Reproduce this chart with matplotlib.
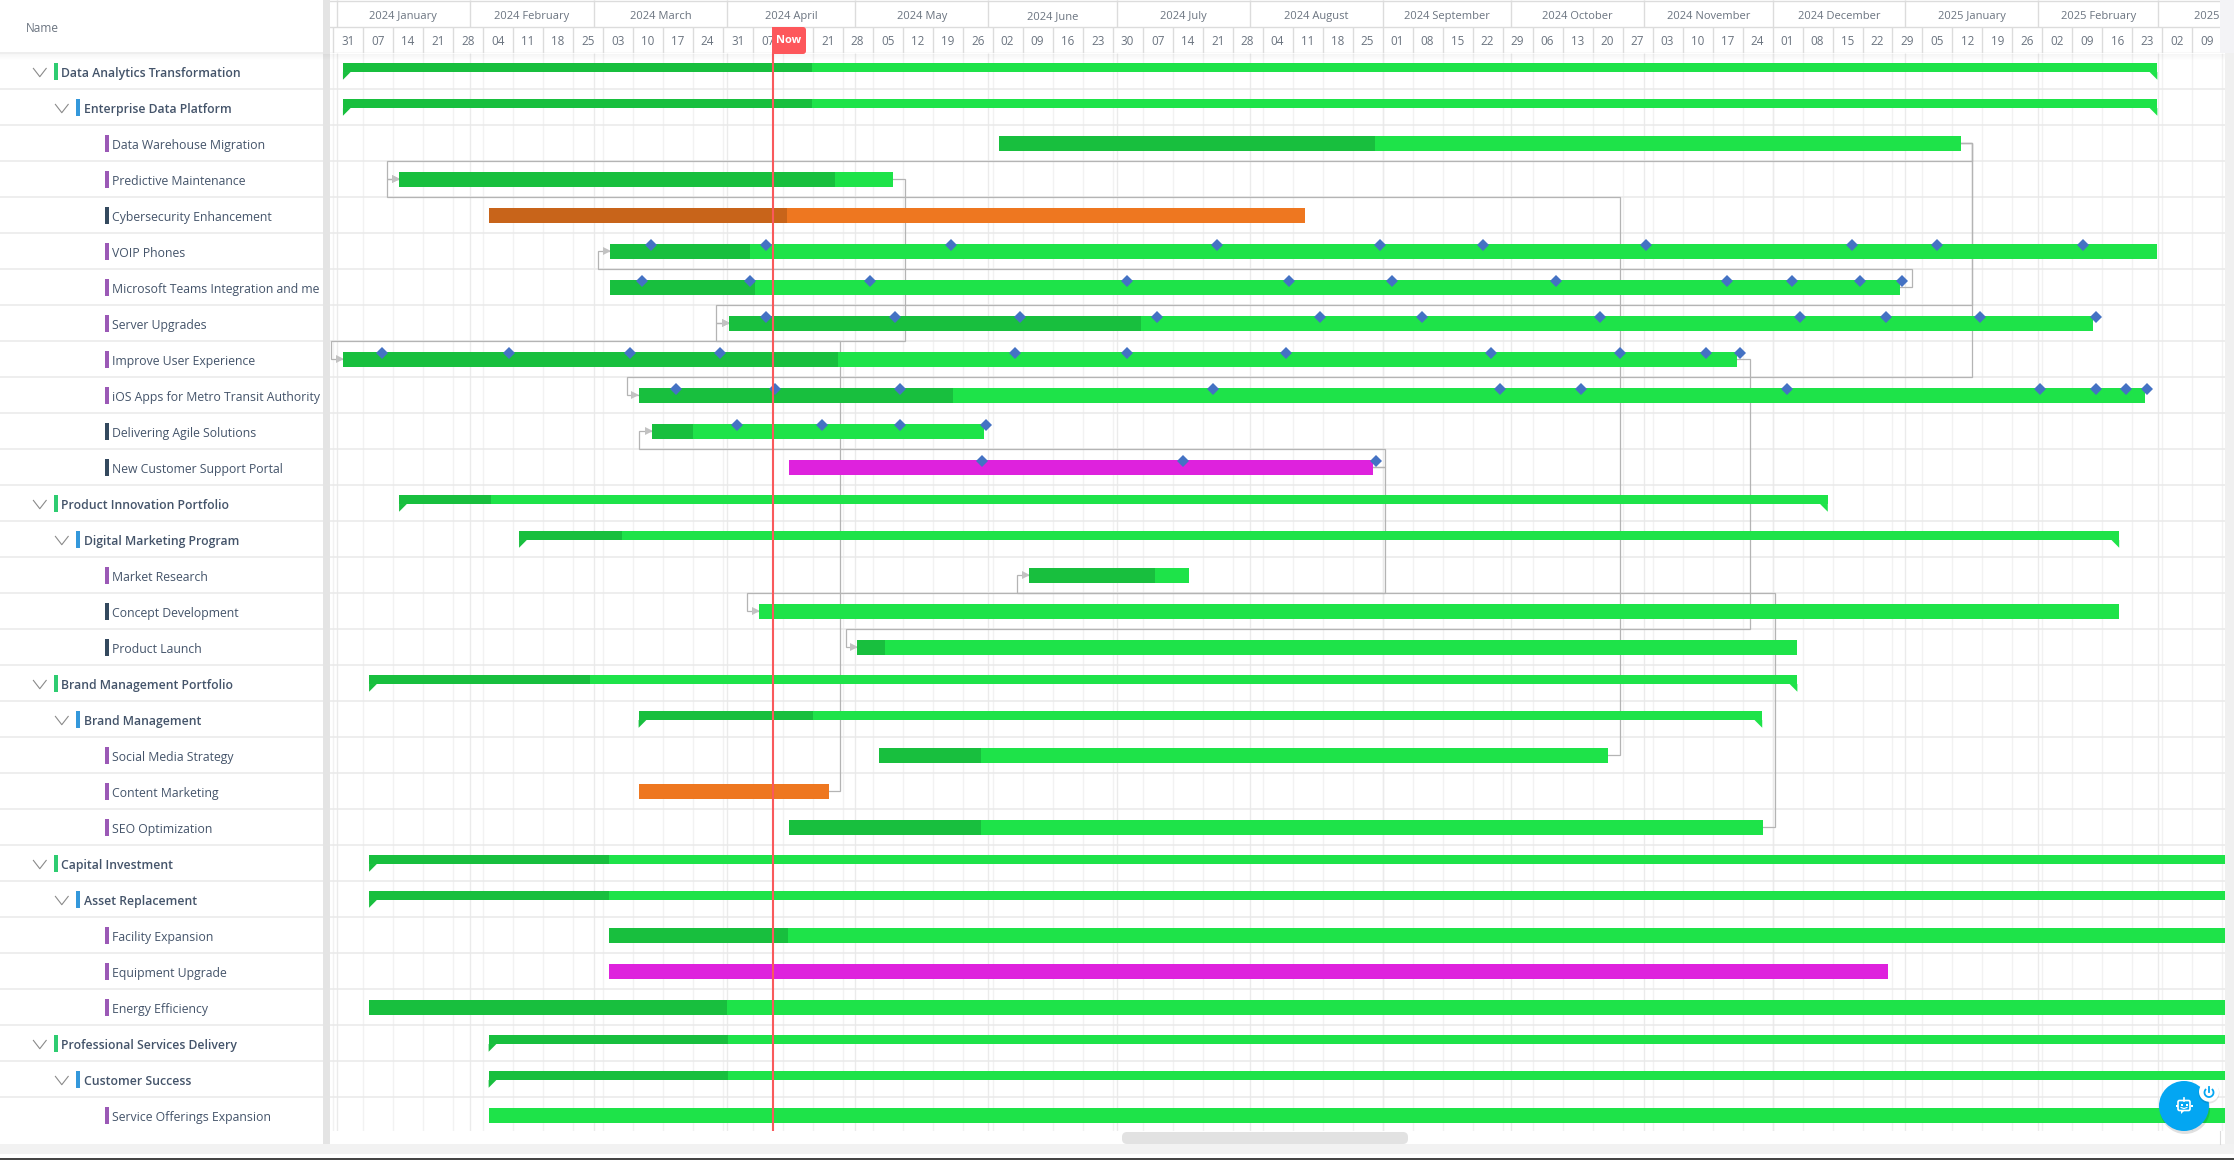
import matplotlib
matplotlib.use('Agg')
import matplotlib.pyplot as plt
from matplotlib.patches import Rectangle, Circle, FancyBboxPatch, Polygon, Arc

plt.rcParams['font.family'] = ['Open Sans', 'DejaVu Sans']

# all time values are days since 2023-12-31
NAMES = ['Data Analytics Transformation', 'Enterprise Data Platform', 'Data Warehouse Migration',
         'Predictive Maintenance', 'Cybersecurity Enhancement', 'VOIP Phones',
         'Microsoft Teams Integration and me', 'Server Upgrades', 'Improve User Experience',
         'iOS Apps for Metro Transit Authority', 'Delivering Agile Solutions', 'New Customer Support Portal',
         'Product Innovation Portfolio', 'Digital Marketing Program', 'Market Research',
         'Concept Development', 'Product Launch', 'Brand Management Portfolio', 'Brand Management',
         'Social Media Strategy', 'Content Marketing', 'SEO Optimization', 'Capital Investment',
         'Asset Replacement', 'Facility Expansion', 'Equipment Upgrade', 'Energy Efficiency',
         'Professional Services Delivery', 'Customer Success', 'Service Offerings Expansion']
LEVELS = [0, 1, 2, 2, 2, 2, 2, 2, 2, 2, 2, 2, 0, 1, 2, 2, 2, 0, 1, 2, 2, 2, 0, 1, 2, 2, 2, 0, 1, 2]
DARK_TAG = [4, 10, 11, 15, 16]
STARTS = [2.4, 2.4, 155.5, 15.5, 36.4, 64.8, 64.8, 92.5, 2.4, 71.4, 74.5, 106.4, 15.5, 43.5, 162.5,
          99.5, 122.3, 8.5, 71.4, 127.5, 71.4, 106.4, 8.5, 8.5, 64.5, 64.5, 8.5, 36.4, 36.4, 36.4]
# start == split means no done part
SPLITS = [111.8, 111.8, 243.2, 117.3, 106.1, 97.4, 98.6, 188.6, 117.9, 144.8, 84.1, 106.4, 36.9, 67.5, 191.9,
          99.5, 128.9, 60.0, 112.0, 151.3, 71.4, 151.3, 64.5, 64.5, 106.2, 64.5, 92.0, 92.3, 92.3, 36.4]
ENDS = [425.8, 425.8, 380.0, 130.7, 226.9, 425.8, 365.7, 410.8, 327.7, 422.9, 152.1, 242.7, 348.9, 416.9, 199.8,
        416.9, 341.7, 341.8, 333.6, 297.6, 115.8, 333.8, 445, 445, 445, 363.0, 445, 445, 445, 445]
ORANGE_ROWS = [4, 20]
MAGENTA_ROWS = [11, 25]

voip_marks = [74.2, 101.2, 144.4, 206.3, 244.3, 268.4, 306.4, 354.5, 374.3, 408.4]
teams_marks = [72.3, 97.3, 125.3, 185.3, 223.2, 247.3, 285.4, 325.3, 340.5, 356.3, 366.3]
server_marks = [101.2, 131.3, 160.3, 192.3, 230.3, 254.3, 295.8, 342.3, 362.4, 384.4, 411.5]
improve_marks = [11.4, 41.2, 69.3, 90.3, 159.3, 185.3, 222.4, 270.4, 300.4, 320.4, 328.3]
ios_marks = [80.2, 103.3, 132.3, 205.4, 272.3, 291.4, 339.3, 398.4, 411.4, 418.4, 423.4]
agile_marks = [94.3, 114.3, 132.3, 152.4]
portal_marks = [151.5, 198.4, 243.5]
MARK_ROWS = {5: voip_marks, 6: teams_marks, 7: server_marks, 8: improve_marks,
             9: ios_marks, 10: agile_marks, 11: portal_marks}

# dependency lines: from row, to row, x going out, row line it runs on, x coming in
LINK_FROM = [2, 2, 2, 19, 3, 6, 20, 11, 11, 21, 8]
LINK_TO = [3, 7, 9, 3, 7, 5, 8, 10, 14, 15, 16]
LINK_OUT = [382.6, 382.6, 382.6, 300.3, 133.6, 368.5, 118.5, 245.5, 245.5, 336.5, 330.7]
LINK_VIA = [3, 7, 9, 4, 8, 6, 8, 11, 15, 15, 16]
LINK_IN = [12.7, 89.5, 68.6, 12.7, 89.5, 61.9, -0.36, 71.6, 159.7, 96.6, 119.8]

WEEK_LABELS = ['31', '07', '14', '21', '28', '04', '11', '18', '25', '03', '10', '17', '24', '31', '07', '14',
               '21', '28', '05', '12', '19', '26', '02', '09', '16', '23', '30', '07', '14', '21', '28', '04',
               '11', '18', '25', '01', '08', '15', '22', '29', '06', '13', '20', '27', '03', '10', '17', '24',
               '01', '08', '15', '22', '29', '05', '12', '19', '26', '02', '09', '16', '23', '02', '09']
MONTH_LABELS = ['2024 January', '2024 February', '2024 March', '2024 April', '2024 May', '2024 June',
                '2024 July', '2024 August', '2024 September', '2024 October', '2024 November',
                '2024 December', '2025 January', '2025 February', '2025 March']
MONTH_STARTS = [1, 32, 61, 92, 122, 153, 183, 214, 245, 275, 306, 336, 367, 398, 426, 457]
NOW_DAY = 102.76

DARK = '#18bf3e'
LIGHT = '#1ee349'
W, H = 2234, 1160
PX0, PX_DAY = 332.65, 4.2853
ROW_TOP, ROW_H = 53.3, 36.0
TEXT = '#44546a'


def px_axes(left, top, right, bottom, z=1):
    a = fig.add_axes([left / W, 1 - bottom / H, (right - left) / W, (bottom - top) / H], zorder=z)
    a.axis('off')
    return a


def day_lim(left, right):
    return (left - PX0) / PX_DAY, (right - PX0) / PX_DAY


fig = plt.figure(figsize=(W / 100, H / 100), dpi=100, facecolor='white')

# gantt area
ax = px_axes(330, ROW_TOP, 2225, 1131)
ax.set_xlim(*day_lim(330, 2225))
ax.set_ylim((1131 - ROW_TOP) / ROW_H, 0)

weeks = [i * 7 for i in range(64)]
ax.vlines(weeks, 0, 30, color='#f2f2f2', lw=1.0, zorder=0)
ax.vlines(MONTH_STARTS, 0, 30, color='#ebebeb', lw=1.0, zorder=0.5)
ax.hlines(range(1, 30), -5, 450, color='#e9e9e9', lw=1.1, zorder=0.6)

for a, b, out, via, inn in zip(LINK_FROM, LINK_TO, LINK_OUT, LINK_VIA, LINK_IN):
    ax.plot([ENDS[a], out, out, inn, inn, STARTS[b]],
            [a + .5, a + .5, via, via, b + .5, b + .5],
            color='#b4b4b4', lw=0.9, zorder=2, solid_joinstyle='miter')
    ax.plot([STARTS[b] - 0.75], [b + .5], marker='>', ms=5.2, color='#c2c2c2', mew=0, zorder=2.5)

for r in range(len(NAMES)):
    dark, light = DARK, LIGHT
    if r in ORANGE_ROWS:
        dark, light = '#c8641a', '#ee7720'
    if r in MAGENTA_ROWS:
        dark, light = '#de22dd', '#de22dd'
    s, m, e = STARTS[r], SPLITS[r], ENDS[r]
    if LEVELS[r] < 2:
        y0, y1, yt = r + .27, r + .52, r + .735
        ax.add_patch(Polygon([(s, y1), (s + 1.8, y1), (s, yt)], color=dark if m > s else light, lw=0, zorder=3))
        ax.add_patch(Polygon([(e, y1), (e - 1.8, y1), (e, yt)], color=light, lw=0, zorder=3))
    else:
        y0, y1 = r + .297, r + .706
    ax.barh((y0 + y1) / 2, m - s, y1 - y0, left=s, color=dark, lw=0, zorder=3)
    ax.barh((y0 + y1) / 2, e - m, y1 - y0, left=m, color=light, lw=0, zorder=3)

for r, marks in MARK_ROWS.items():
    ax.plot(marks, [r + 1 / 3] * len(marks), ls='', marker='D', ms=5.8, color='#4472c4', mew=0, zorder=4)

ax.axvline(NOW_DAY, color='#f9595c', lw=1.5, zorder=5)

# timeline header
hd = px_axes(330, 0, 2220.3, ROW_TOP)
hd.set_xlim(*day_lim(330, 2220.3))
hd.set_ylim(ROW_TOP, 0)
hd.vlines(weeks, 26.7, ROW_TOP, color='#dcdcdc', lw=1.0)
hd.vlines(MONTH_STARTS, 0, 26.7, color='#dcdcdc', lw=1.0)
hd.hlines([0.6, 26.7, 52.7], -5, 450, color='#dcdcdc', lw=1.0)
for w, lab in zip(weeks, WEEK_LABELS):
    hd.text(w + 3.5, 45, lab, ha='center', va='baseline', fontsize=8.4, color='#6b7480', clip_on=True)
for i, lab in enumerate(MONTH_LABELS):
    hd.text((MONTH_STARTS[i] + MONTH_STARTS[i + 1]) / 2, 19, lab, ha='center', va='baseline',
            fontsize=8.0, color='#6b7480', clip_on=True)

# name column
lf = px_axes(0, 0, 323, 1144)
lf.set_xlim(0, 323)
lf.set_ylim((1144 - ROW_TOP) / ROW_H, -ROW_TOP / ROW_H)
lf.hlines(range(0, 30), 0, 323, color='#e9e9e9', lw=1.1)
lf.text(26, -21.3 / ROW_H, 'Name', ha='left', va='baseline', fontsize=8.5, color='#6b7480')
TAG_X = [54, 76, 105]
TEXT_X = [61.2, 83.7, 111.7]
CHEVRON_X = [39.8, 61.8]
TAG_COLOR = ['#2ecc71', '#3498db', '#9b59b6']
for r, (name, lv) in enumerate(zip(NAMES, LEVELS)):
    col = '#34495e' if r in DARK_TAG else TAG_COLOR[lv]
    lf.add_patch(Rectangle((TAG_X[lv], r + .27), 4, .47, color=col, lw=0))
    lf.text(TEXT_X[lv], r + .65, name, ha='left', va='baseline', fontsize=8.8, color=TEXT,
            weight='semibold' if lv < 2 else 'normal', clip_on=True)
    if lv < 2:
        cx = CHEVRON_X[lv]
        lf.plot([cx - 6.4, cx, cx + 6.4], [r + .42, r + .65, r + .42], color='#8a8a8a', lw=0.8)

# window chrome in pixels
ov = px_axes(0, 0, W, H, z=10)
ov.set_xlim(0, W)
ov.set_ylim(H, 0)
ov.add_patch(Rectangle((323, 0), 7, 1144, color='#e4e4e4', lw=0))
ov.add_patch(Rectangle((0, 1144), W, 10, color='#f2f2f2', lw=0))
ov.add_patch(Rectangle((0, 1158.4), W, 1.6, color='#454545', lw=0))
ov.add_patch(FancyBboxPatch((1127, 1137), 276, 2, boxstyle='round,pad=5', color='#e2e2e2', lw=0))
ov.add_patch(Rectangle((2220.3, 0), 14, 53.3, color='#f3f3f6', lw=0))
ov.add_patch(Rectangle((2225, 53.3), 9, 1090.7, color='#f0f0f0', lw=0))
ov.plot([2220.4, 2220.4], [1131, 1144], color='#dcdcdc', lw=0.8)

# header shadow
for i in range(6):
    ov.add_patch(Rectangle((0, 53.8 + i), 2225, 1, color='#000000', alpha=0.035 - i * 0.006, lw=0))

# now flag
ov.add_patch(FancyBboxPatch((779, 30), 24, 21, boxstyle='round,pad=3', color='#fd575b', lw=0))
ov.add_patch(Rectangle((772, 27), 12, 27, color='#fd575b', lw=0))
ov.text(788.8, 40.5, 'Now', ha='center', va='center', fontsize=8, color='white', weight='bold')

# chat button
BLUE = '#03a6f2'
ov.add_patch(Circle((2185, 1109), 25, color='#000000', alpha=0.12, lw=0))
ov.add_patch(Circle((2184, 1106), 25, color=BLUE, lw=0))
ov.add_patch(Circle((2209, 1093), 10.5, color='#000000', alpha=0.10, lw=0))
ov.add_patch(Circle((2209, 1091.7), 10, color='white', lw=0))
ov.add_patch(Arc((2209, 1092.5), 9, 9, theta1=-50, theta2=230, color=BLUE, lw=1.3))
ov.plot([2209, 2209], [1086.5, 1092], color=BLUE, lw=1.3)
ov.add_patch(FancyBboxPatch((2179.5, 1102), 9, 7, boxstyle='round,pad=1.5', fc=BLUE, ec='white', lw=1.2))
ov.plot([2184, 2184], [1098, 1100.5], color='white', lw=1.2)
ov.plot([2176.5, 2191.5], [1105.5, 1105.5], ls='', marker='s', ms=1.6, color='white', mew=0)
ov.plot([2181.5, 2186.5], [1104.5, 1104.5], ls='', marker='s', ms=1.6, color='white', mew=0)
ov.plot([2181, 2184, 2187], [1107.5, 1108.5, 1107.5], color='white', lw=0.8)
ov.add_patch(Polygon([(2181, 1110), (2185, 1110), (2181, 1114)], color='white', lw=0))

fig.savefig('out.png', dpi=100)
